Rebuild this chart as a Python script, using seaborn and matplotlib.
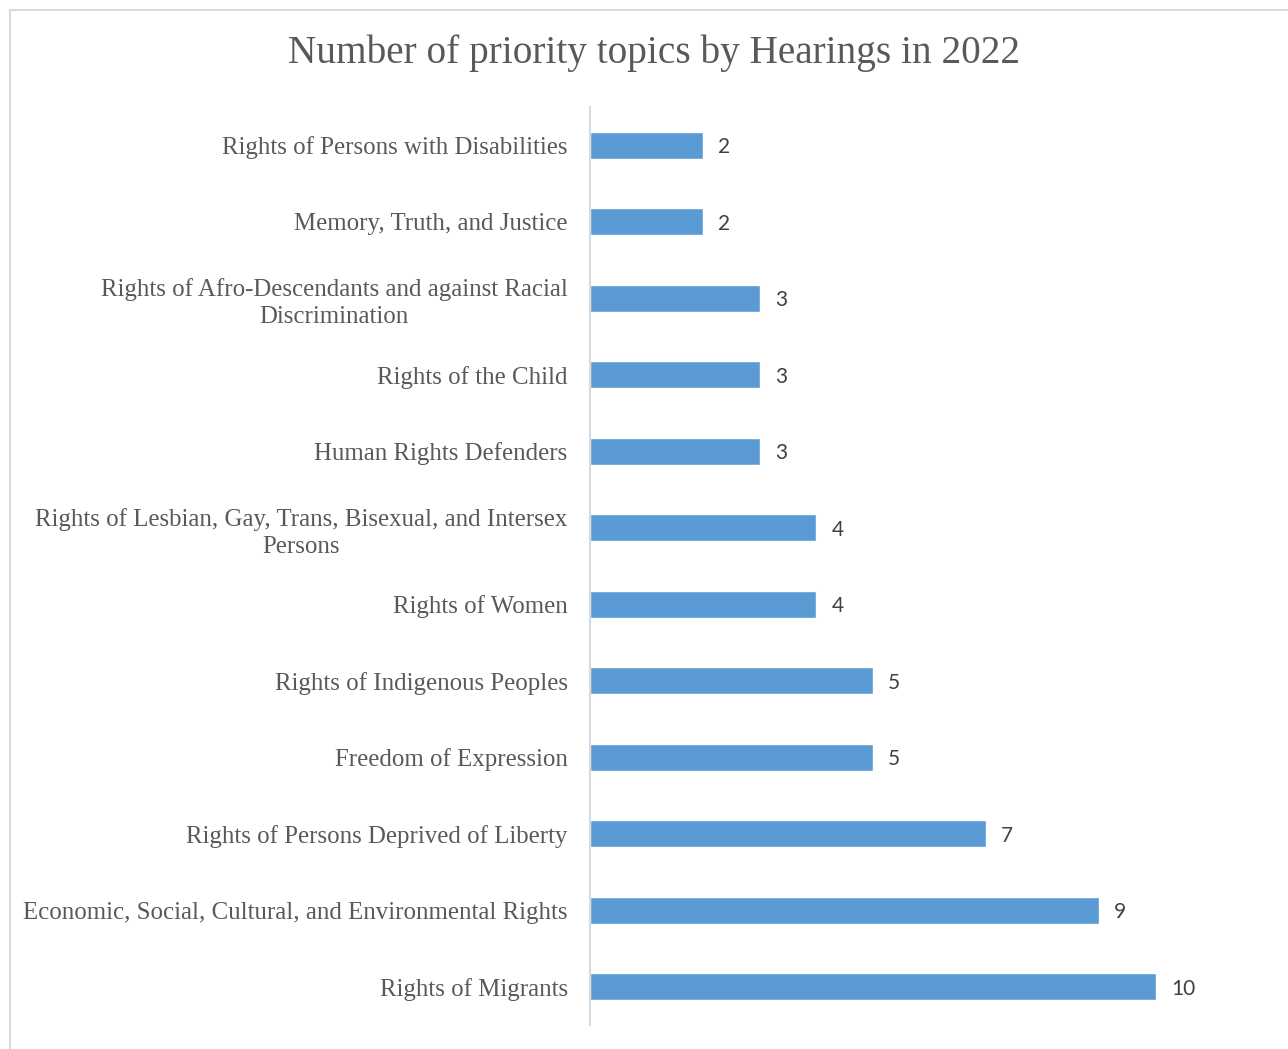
import matplotlib.pyplot as plt
import matplotlib.patches as mpatches
import pandas as pd
import seaborn as sns

TOPICS = [
    'Rights of Persons with Disabilities',
    'Memory, Truth, and Justice',
    'Rights of Afro-Descendants and against Racial\nDiscrimination',
    'Rights of the Child',
    'Human Rights Defenders',
    'Rights of Lesbian, Gay, Trans, Bisexual, and Intersex\nPersons',
    'Rights of Women',
    'Rights of Indigenous Peoples',
    'Freedom of Expression',
    'Rights of Persons Deprived of Liberty',
    'Economic, Social, Cultural, and Environmental Rights',
    'Rights of Migrants',
]
COUNTS = [2, 2, 3, 3, 3, 4, 4, 5, 5, 7, 9, 10]
TITLE = 'Number of priority topics by Hearings in 2022'

BAR_COLOR = '#5B9BD5'
TEXT_COLOR = '#595959'
LINE_COLOR = '#d9d9d9'
SERIF = 'Liberation Serif'

sns.set_theme(style='white')

df = pd.DataFrame({'topic': TOPICS, 'count': COUNTS})

fig = plt.figure(figsize=(12.88, 10.49), dpi=100)
ax = fig.add_axes([0.458, 0.0229, 0.527, 0.875])

sns.barplot(data=df, y='topic', x='count', orient='h', color=BAR_COLOR,
            width=0.35, saturation=1, ax=ax)

ax.set_xlim(0, 12)
ax.set_ylim(len(TOPICS) - 0.5, -0.5)
ax.set_xticks([])
ax.set_xlabel('')
ax.set_ylabel('')
for side in ['top', 'right', 'bottom']:
    ax.spines[side].set_visible(False)
ax.spines['left'].set_color(LINE_COLOR)
ax.spines['left'].set_linewidth(1.5)

ax.tick_params(axis='y', length=0, pad=16)
for lbl in ax.get_yticklabels():
    lbl.set_fontfamily(SERIF)
    lbl.set_fontsize(17.9)
    lbl.set_color(TEXT_COLOR)
    lbl.set_multialignment('center')
    lbl.set_linespacing(1.3)

for cont in ax.containers:
    labels = ax.bar_label(cont, padding=11, fontsize=15, color='#404040',
                          fontfamily='Lato')
    for t in labels:
        t.set_va('center_baseline')

fig.text(0.508, 0.949, TITLE, ha='center', va='center',
         fontsize=28.3, color=TEXT_COLOR, fontfamily=SERIF)

# chart-area border (cropped on the right, as in the source)
fig.patches.append(mpatches.Rectangle(
    (10 / 1288, -0.05), 1.1, 1 - 10 / 1049 + 0.05,
    transform=fig.transFigure, fill=False, edgecolor=LINE_COLOR,
    linewidth=1.5, zorder=0))

fig.savefig('out.png', dpi=100, facecolor='white')
